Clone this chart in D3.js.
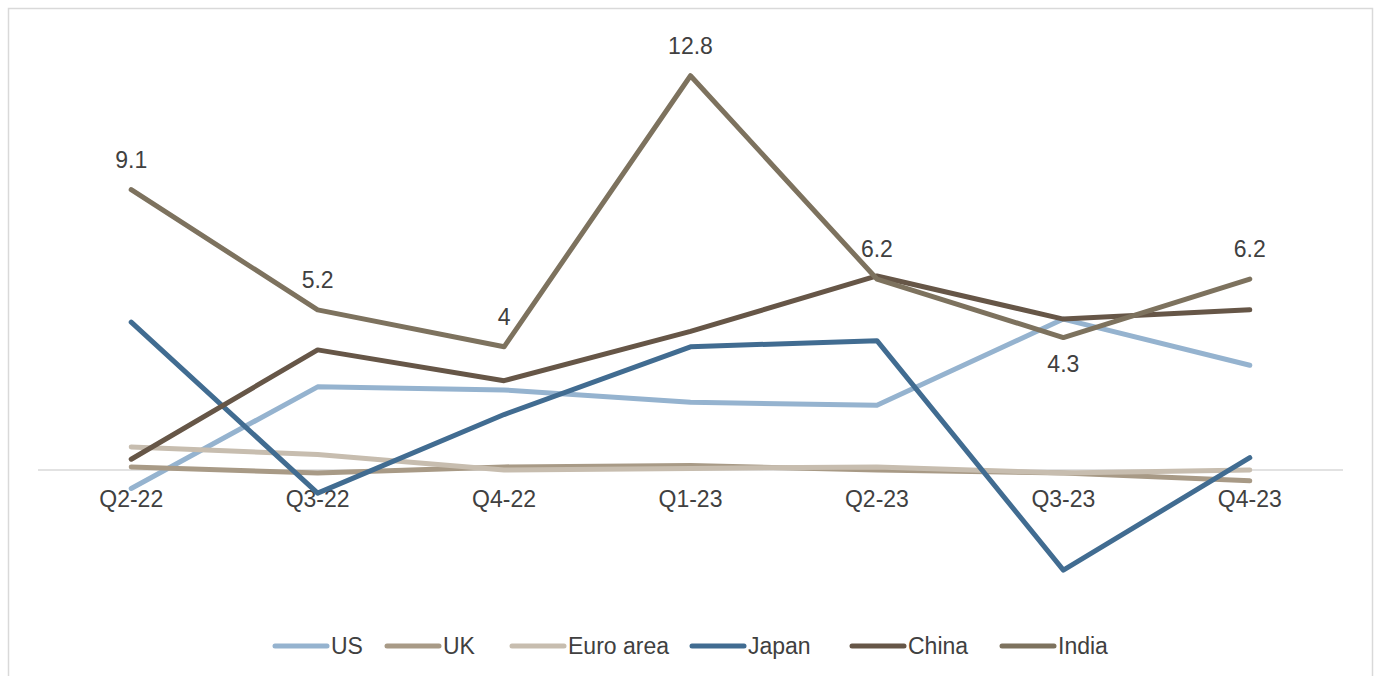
<!DOCTYPE html>
<html><head><meta charset="utf-8">
<script src="https://cdn.jsdelivr.net/npm/d3@7"></script>
<style>body{margin:0;background:#fff;}svg{display:block;}</style>
</head><body>
<svg id="c" width="1377" height="676"></svg>
<script>
const categories = ["Q2-22","Q3-22","Q4-22","Q1-23","Q2-23","Q3-23","Q4-23"];
const usValues    = [-0.6, 2.7, 2.6, 2.2, 2.1, 4.9, 3.4];
const ukValues    = [0.1, -0.1, 0.1, 0.15, 0.0, -0.1, -0.35];
const euroValues  = [0.75, 0.5, 0.0, 0.05, 0.1, -0.1, 0.0];
const japanValues = [4.8, -0.75, 1.8, 4.0, 4.2, -3.25, 0.4];
const chinaValues = [0.35, 3.9, 2.9, 4.5, 6.3, 4.9, 5.2];
const indiaValues = [9.1, 5.2, 4.0, 12.8, 6.2, 4.3, 6.2];
const seriesNames = ["US","UK","Euro area","Japan","China","India"];
const seriesColors = ["#95b3cf","#a89a86","#c7bdaf","#416c91","#665647","#7d725e"];
const seriesData = [usValues, ukValues, euroValues, japanValues, chinaValues, indiaValues];
const labelledSeries = "India";
const labelBelow = [false,false,false,false,false,true,false];

const FONT = "Liberation Sans, Arial, sans-serif";
const FS = 23;
const svg = d3.select("#c");
svg.append("rect").attr("x",8.5).attr("y",8.5).attr("width",1364).attr("height",700)
  .attr("fill","#fff").attr("stroke","#d9d9d9").attr("stroke-width",1.5);

const x = d3.scaleBand().domain(categories).range([38,1343]);
const y = d3.scaleLinear().domain([0,12.8]).range([470,470-12.8*30.8]);

svg.append("line").attr("x1",38).attr("x2",1343).attr("y1",y(0)).attr("y2",y(0))
  .attr("stroke","#d9d9d9").attr("stroke-width",1.3);

const xAxis = svg.append("g").attr("transform",`translate(0,${y(0)})`)
  .call(d3.axisBottom(x).tickSize(0).tickPadding(20.5));
xAxis.select(".domain").remove();
xAxis.selectAll("text").attr("font-family",FONT)
  .attr("font-size",FS).attr("fill","#404040");

const line = d3.line().x((d,i)=>x(categories[i])+x.bandwidth()/2).y(d=>y(d));
seriesData.forEach((vals,k)=>{
  svg.append("path").datum(vals).attr("d",line).attr("fill","none")
    .attr("stroke",seriesColors[k]).attr("stroke-width",5)
    .attr("stroke-linecap","round").attr("stroke-linejoin","round");
});

const li = seriesNames.indexOf(labelledSeries);
svg.append("g").selectAll("text").data(seriesData[li]).join("text")
  .attr("x",(d,i)=>x(categories[i])+x.bandwidth()/2)
  .attr("y",(d,i)=>labelBelow[i] ? y(d)+34 : y(d)-22)
  .attr("text-anchor","middle")
  .attr("font-family",FONT).attr("font-size",FS)
  .attr("fill","#404040").text(d=>d3.format("")(d));

const legendX = [273,385,510,690,850,1000];
const lg = svg.append("g");
seriesNames.forEach((n,k)=>{
  lg.append("line").attr("x1",legendX[k]+2).attr("x2",legendX[k]+54).attr("y1",646).attr("y2",646)
    .attr("stroke",seriesColors[k]).attr("stroke-width",5).attr("stroke-linecap","round");
  lg.append("text").attr("x",legendX[k]+58).attr("y",654)
    .attr("font-family",FONT).attr("font-size",FS)
    .attr("fill","#404040").text(n);
});
</script>
</body></html>
